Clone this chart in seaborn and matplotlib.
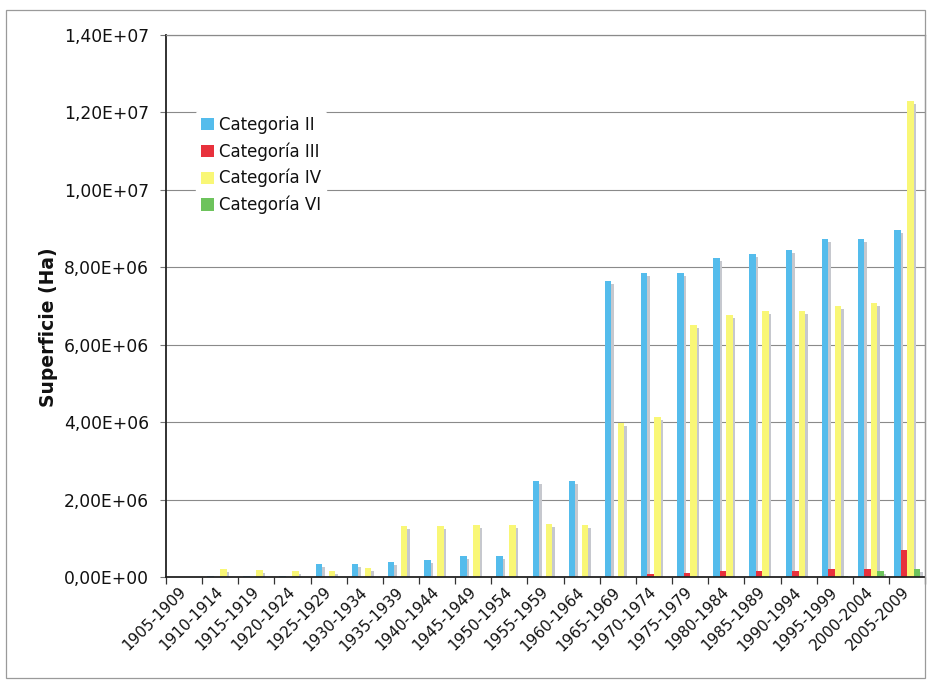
import numpy as np
import pandas as pd
import matplotlib
matplotlib.use("Agg")
import matplotlib.pyplot as plt
import seaborn as sns
from matplotlib.transforms import ScaledTranslation
from matplotlib.ticker import FuncFormatter
from matplotlib.patches import Rectangle, Patch

# Periods (5-year spans)
periodos = ["1905-1909", "1910-1914", "1915-1919", "1920-1924", "1925-1929",
            "1930-1934", "1935-1939", "1940-1944", "1945-1949", "1950-1954",
            "1955-1959", "1960-1964", "1965-1969", "1970-1974", "1975-1979",
            "1980-1984", "1985-1989", "1990-1994", "1995-1999", "2000-2004",
            "2005-2009"]

# Protected surface (ha) by category
cat_ii = [0, 3e4, 3e4, 3e4, 3.45e5, 3.4e5, 3.8e5, 4.5e5, 5.4e5, 5.4e5,
          2.48e6, 2.48e6, 7.65e6, 7.85e6, 7.85e6, 8.25e6, 8.35e6, 8.45e6,
          8.72e6, 8.72e6, 8.95e6]
cat_iii = [0, 0, 0, 0, 0, 0, 0, 0, 0, 0,
           0, 0, 0, 7e4, 1.1e5, 1.5e5, 1.5e5, 1.5e5, 2.0e5, 2.1e5, 7.0e5]
cat_iv = [0, 2.2e5, 1.9e5, 1.6e5, 1.6e5, 2.4e5, 1.33e6, 1.33e6, 1.35e6, 1.35e6,
          1.36e6, 1.34e6, 3.99e6, 4.14e6, 6.5e6, 6.76e6, 6.87e6, 6.88e6,
          6.99e6, 7.07e6, 1.23e7]
cat_vi = [0, 0, 0, 0, 0, 0, 0, 0, 0, 0,
          0, 0, 0, 0, 0, 0, 0, 0, 2e4, 1.7e5, 2.1e5]

series = ["Categoria II", "Categoría III", "Categoría IV", "Categoría VI"]
colores = ["#54BCEC", "#E8313C", "#F9F776", "#6DC35C"]

df = pd.DataFrame({
    "Periodo": periodos * 4,
    "Categoría": np.repeat(series, len(periodos)),
    "Superficie": cat_ii + cat_iii + cat_iv + cat_vi,
})

sns.set_theme(style="white")
plt.rcParams["font.family"] = ["DejaVu Sans"]

fig = plt.figure(figsize=(9.27, 6.83), dpi=100)
ax = fig.add_axes([0.179, 0.155, 0.819, 0.794])

# Soft drop shadow behind each bar
sns.barplot(data=df, x="Periodo", y="Superficie", hue="Categoría",
            hue_order=series, palette=["#c6c8ce"] * 4, width=0.72,
            saturation=1, ax=ax, legend=False, errorbar=None)
shadow = list(ax.patches)
desplaz = ScaledTranslation(0.025, -0.03, fig.dpi_scale_trans)
for p in shadow:
    p.set_transform(ax.transData + desplaz)
    p.set_zorder(1.5)
    p.set_linewidth(0)

# Front bars
sns.barplot(data=df, x="Periodo", y="Superficie", hue="Categoría",
            hue_order=series, palette=colores, width=0.72,
            saturation=1, ax=ax, legend=False, errorbar=None)
for p in ax.patches[len(shadow):]:
    p.set_zorder(2)
    p.set_linewidth(0)

# Axes styling
ax.set_xlim(-0.5, len(periodos) - 0.5)
ax.set_ylim(0, 1.4e7)
ax.set_yticks(np.arange(0, 1.40001e7, 2e6))
ax.yaxis.set_major_formatter(
    FuncFormatter(lambda v, pos: f"{v:.2E}".replace(".", ",")))
ax.set_axisbelow(True)
ax.grid(axis="y", color="#8a8a8a", linewidth=0.8)
ax.grid(axis="x", visible=False)

ax.set_xticks(range(len(periodos)))
ax.set_xticklabels(periodos, rotation=45, ha="right", va="center",
                   rotation_mode="anchor", fontsize=11)
ax.set_xticks(np.arange(-0.5, len(periodos)), minor=True)
ax.tick_params(axis="x", which="major", length=0, pad=9, colors="#111111")
ax.tick_params(axis="x", which="minor", length=5, width=0.9,
               direction="out", color="#333333", bottom=True)
ax.tick_params(axis="y", length=4, width=0.8, direction="out", pad=8,
               color="#777777", labelsize=12.3, labelcolor="#111111", left=True)
ax.set_xlabel("")
ax.set_ylabel("Superficie (Ha)", fontsize=13.5, fontweight="bold",
              color="#111111")
ax.yaxis.set_label_coords(-0.142, 0.46)

for lado in ["left", "bottom"]:
    ax.spines[lado].set_color("#222222")
    ax.spines[lado].set_linewidth(1.3)
for lado in ["top", "right"]:
    ax.spines[lado].set_color("#8a8a8a")
    ax.spines[lado].set_linewidth(0.9)

# Legend
manijas = [Patch(facecolor=c, edgecolor="none") for c in colores]
ley = ax.legend(manijas, series, loc="upper left", bbox_to_anchor=(0.04, 0.86),
                frameon=True, fontsize=12, handlelength=0.75,
                handleheight=0.75, handletextpad=0.3, labelspacing=0.5,
                borderpad=0.3, borderaxespad=0)
ley.get_frame().set_facecolor("white")
ley.get_frame().set_edgecolor("white")
ley.get_frame().set_alpha(1)
for t in ley.get_texts():
    t.set_color("#111111")

# Outer chart border
fig.patches.append(Rectangle((0.006, 0.008), 0.992, 0.978, transform=fig.transFigure,
                             fill=False, edgecolor="#9a9a9a", linewidth=0.9))

fig.savefig("out.png", dpi=100, facecolor="white")
